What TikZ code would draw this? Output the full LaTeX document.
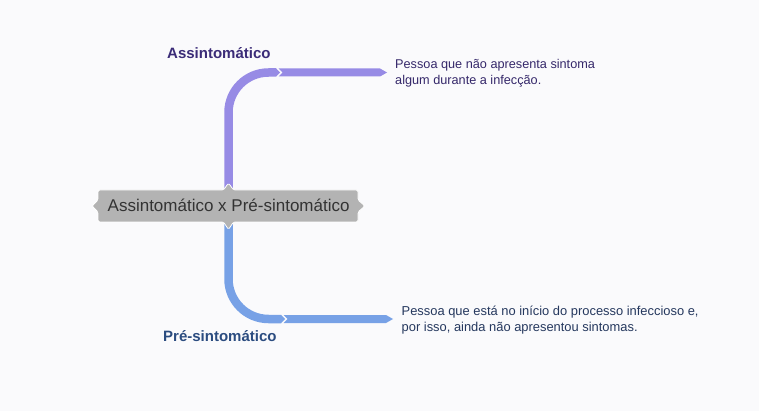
\documentclass[tikz,border=0pt]{standalone}
\usepackage{fontspec}
\setmainfont{Liberation Sans}
\definecolor{bg}{HTML}{FAFAFC}
\definecolor{purp}{HTML}{978BE5}
\definecolor{blu}{HTML}{77A1E6}
\definecolor{boxg}{HTML}{B3B3B3}
\definecolor{purtxt}{HTML}{3B2C78}
\definecolor{blutxt}{HTML}{2B4C80}
\definecolor{desc1}{HTML}{35286A}
\definecolor{desc2}{HTML}{25385E}
\tikzset{
  lbl/.style={inner sep=0pt, anchor=base west, font=\fontsize{15}{18}\selectfont\bfseries},
  desc/.style={inner sep=0pt, anchor=base west, align=left},
  branch/.style={line width=8.5pt, rounded corners=40pt},
}
\begin{document}
\begin{tikzpicture}[x=1pt,y=-1pt]
\fill[bg] (0,0) rectangle (759,411);
\useasboundingbox (0,0) rectangle (759,411);
% coordinates
\coordinate (ptop) at (228.5,192);
\coordinate (j1) at (276,72.5);
\coordinate (pbot) at (228.5,220);
\coordinate (j2) at (281,319);
% upper branch
\draw[purp, branch] (ptop) |- (j1);
\fill[purp] (276,68.25) -- (280,72.5) -- (276,76.75) -- cycle;
\fill[purp] (278.5,68.5) -- (380,68.5) -- (387,72.5) -- (380,76.5) -- (278.5,76.5) -- (282.5,72.5) -- cycle;
% lower branch
\draw[blu, branch] (pbot) |- (j2);
\fill[blu] (281,314.75) -- (285,319) -- (281,323.25) -- cycle;
\fill[blu] (283.5,315) -- (386,315) -- (393,319) -- (386,323) -- (283.5,323) -- (287.5,319) -- cycle;
% central box
\fill[boxg, draw=white, line width=0.8pt, rounded corners=1.5pt] (98,190) -- (223.5,190) -- (228.5,183) -- (233.5,190) -- (358,190) -- (358,200) -- (365,206) -- (358,212) -- (358,222) -- (233.5,222) -- (228.5,229.5) -- (223.5,222) -- (98,222) -- (98,212) -- (92,206) -- (98,200) -- cycle;
\node[inner sep=0pt, anchor=base west, text=black!80, font=\fontsize{17}{20}\selectfont] (center) at (107.5,211.5) {Assintomático x Pré-sintomático};
% labels
\node[lbl, text=purtxt] (la) at (167,59) {Assintomático};
\node[lbl, text=blutxt] (lp) at (163,341.5) {Pré-sintomático};
% descriptions
\node[desc, text=desc1, font=\fontsize{12.7}{16}\selectfont] (da) at (395,85) {Pessoa que não apresenta sintoma\\algum durante a infecção.};
\node[desc, text=desc2, font=\fontsize{12.9}{16}\selectfont] (dp) at (401.5,331) {Pessoa que está no início do processo infeccioso e,\\por isso, ainda não apresentou sintomas.};
\end{tikzpicture}
\end{document}
